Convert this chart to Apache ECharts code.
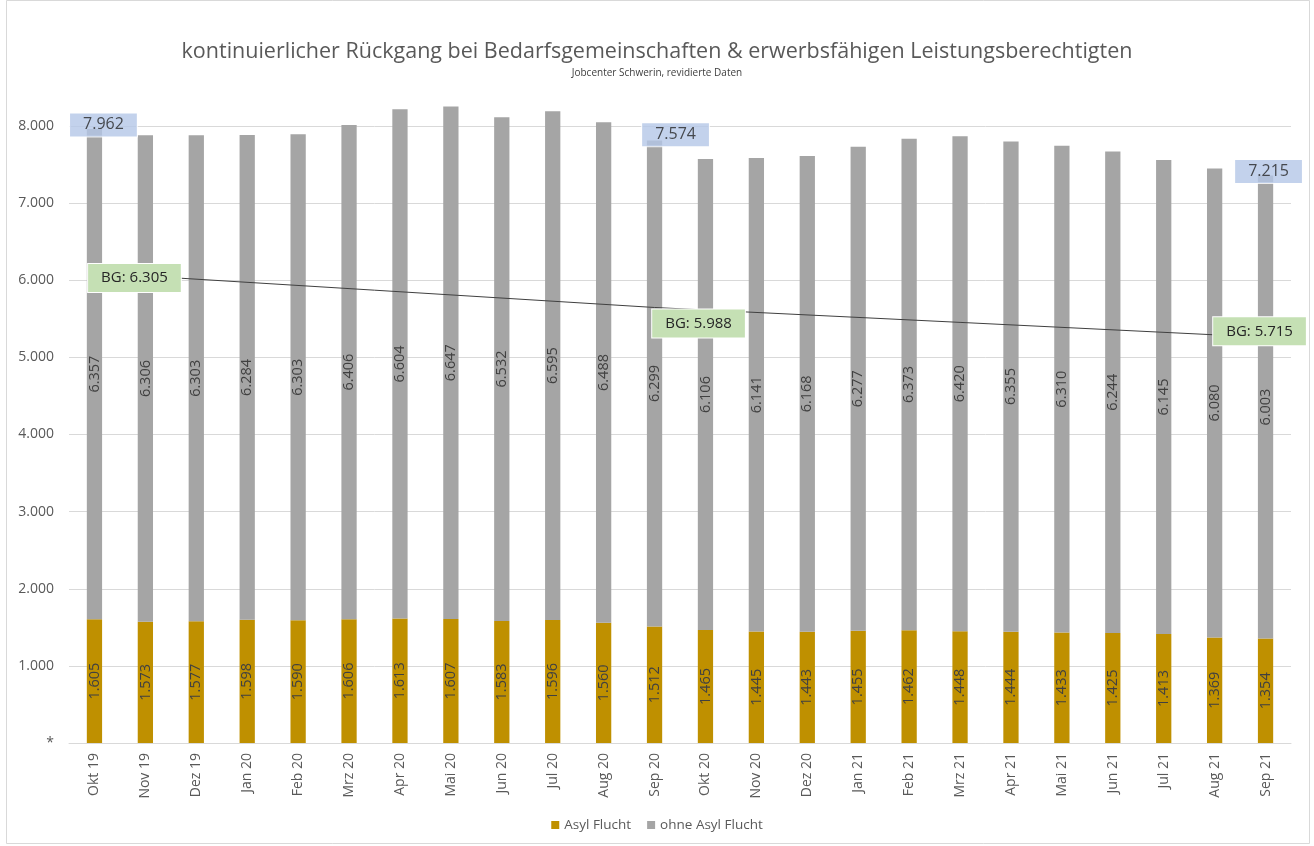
<!DOCTYPE html>
<html>
<head>
<meta charset="utf-8">
<script src="https://cdn.jsdelivr.net/npm/echarts@6/dist/echarts.min.js"></script>
<style>html,body{margin:0;padding:0;background:#fff}#c{width:1314px;height:846px}</style>
</head>
<body>
<div id="c"></div>
<script>
const categories = ['Okt 19','Nov 19','Dez 19','Jan 20','Feb 20','Mrz 20','Apr 20','Mai 20','Jun 20','Jul 20','Aug 20','Sep 20','Okt 20','Nov 20','Dez 20','Jan 21','Feb 21','Mrz 21','Apr 21','Mai 21','Jun 21','Jul 21','Aug 21','Sep 21'];
const asylFlucht = [1605,1573,1577,1598,1590,1606,1613,1607,1583,1596,1560,1512,1465,1445,1443,1455,1462,1448,1444,1433,1425,1413,1369,1354];
const ohneAsylFlucht = [6357,6306,6303,6284,6303,6406,6604,6647,6532,6595,6488,6299,6106,6141,6168,6277,6373,6420,6355,6310,6244,6145,6080,6003];
const gesamtMarker = [7962,null,null,null,null,null,null,null,null,null,null,7574,null,null,null,null,null,null,null,null,null,null,null,7215];
const bgMarker = [6305,null,null,null,null,null,null,null,null,null,null,5988,null,null,null,null,null,null,null,null,null,null,null,5715];
const yTicks = [0,1000,2000,3000,4000,5000,6000,7000,8000];

const fmt = v => String(v).replace(/\B(?=(\d{3})+(?!\d))/g, '.');
const FONT = '"Open Sans", "Noto Sans", sans-serif';

// label placement styles (kept separate from data)
const gesamtOffsets = {0:[9,-4], 11:[21,-24], 23:[3,-15]};
const bgOffsets = {0:[40,5], 11:[44,16], 23:[-6,-6]};

const gesamtData = gesamtMarker.map((v,i) => v == null ? null : {value: v, label: {offset: gesamtOffsets[i]}});
const bgData = bgMarker.map((v,i) => v == null ? null : {value: v, label: {offset: bgOffsets[i]}});

const chart = echarts.init(document.getElementById('c'), null, {renderer: 'canvas'});
chart.setOption({
  backgroundColor: '#fff',
  animation: false,
  title: {
    text: 'kontinuierlicher Rückgang bei Bedarfsgemeinschaften & erwerbsfähigen Leistungsberechtigten',
    subtext: 'Jobcenter Schwerin, revidierte Daten',
    left: 'center', top: 36, itemGap: 5,
    textStyle: {fontFamily: FONT, fontSize: 21.5, fontWeight: 'normal', color: '#595959'},
    subtextStyle: {fontFamily: FONT, fontSize: 10, color: '#404040'}
  },
  graphic: [{type: 'rect', shape: {x: 6.5, y: 0.5, width: 1303, height: 843}, style: {fill: 'none', stroke: '#D9D9D9', lineWidth: 1}, silent: true}],
  legend: {
    bottom: 9, left: 'center', itemWidth: 8, itemHeight: 8, itemGap: 16, icon: 'rect',
    data: ['Asyl Flucht', 'ohne Asyl Flucht'],
    textStyle: {fontFamily: FONT, fontSize: 13.5, color: '#595959'}
  },
  grid: {left: 69, right: 23, top: 126, bottom: 103},
  xAxis: {
    type: 'category', data: categories,
    axisLine: {lineStyle: {color: '#D9D9D9'}}, axisTick: {show: false},
    axisLabel: {rotate: 90, fontFamily: FONT, fontSize: 14, color: '#595959', margin: 10}
  },
  yAxis: [{
    type: 'value', min: 0, max: 8000, interval: 1000,
    axisLine: {show: false}, axisTick: {show: false},
    splitLine: {lineStyle: {color: '#D9D9D9'}},
    axisLabel: {fontFamily: FONT, fontSize: 14, color: '#595959', margin: 15,
      formatter: v => v === 0 ? '*' : fmt(v)}
  }, {
    type: 'value', min: 2000, max: 7650, show: false, splitLine: {show: false}
  }],
  series: [{
    name: 'Asyl Flucht', type: 'bar', stack: 'a', data: asylFlucht, barWidth: '30%',
    itemStyle: {color: '#BF9000'},
    label: {show: true, position: 'inside', rotate: 90, formatter: p => fmt(p.value),
      fontFamily: FONT, fontSize: 14.5, color: '#404040'}
  }, {
    name: 'ohne Asyl Flucht', type: 'bar', stack: 'a', data: ohneAsylFlucht, barWidth: '30%',
    itemStyle: {color: '#A5A5A5'}, clip: false,
    label: {show: true, position: 'inside', rotate: 90, formatter: p => fmt(p.value),
      fontFamily: FONT, fontSize: 14.5, color: '#404040'}
  }, {
    name: 'BG', type: 'line', yAxisIndex: 1, data: bgData, connectNulls: true,
    symbol: 'circle', symbolSize: 0, showSymbol: true, showAllSymbol: true,
    lineStyle: {color: '#404040', width: 1}, z: 5,
    label: {show: true, position: 'inside', formatter: p => 'BG: ' + fmt(p.value),
      fontFamily: FONT, fontSize: 15, color: '#262626', backgroundColor: '#C5E0B4',
      borderColor: '#fff', borderWidth: 1, padding: [5, 13, 4, 13], lineHeight: 19}
  }, {
    name: 'Gesamt', type: 'scatter', data: gesamtData, symbolSize: 0, z: 6,
    label: {show: true, position: 'inside', formatter: p => fmt(p.value),
      fontFamily: FONT, fontSize: 16, color: '#262626', backgroundColor: '#B4C7E7',
      borderColor: '#fff', borderWidth: 1, padding: [3, 13, 1, 13], lineHeight: 19}
  }]
});
</script>
</body>
</html>
